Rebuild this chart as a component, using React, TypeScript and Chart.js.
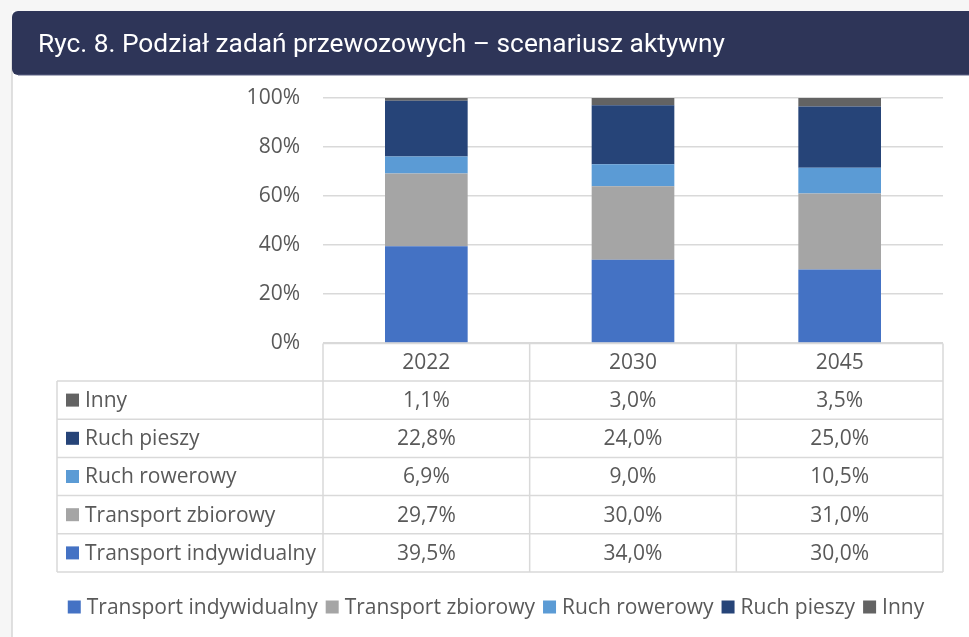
import React, { useEffect, useRef } from 'react';
import { Chart, registerables } from 'chart.js';

Chart.register(...registerables);

const TITLE = 'Ryc. 8. Podział zadań przewozowych – scenariusz aktywny';
const years = ['2022', '2030', '2045'];
const seriesNames = ['Transport indywidualny', 'Transport zbiorowy', 'Ruch rowerowy', 'Ruch pieszy', 'Inny'];
const transportIndywidualny = [39.5, 34.0, 30.0];
const transportZbiorowy = [29.7, 30.0, 31.0];
const ruchRowerowy = [6.9, 9.0, 10.5];
const ruchPieszy = [22.8, 24.0, 25.0];
const inny = [1.1, 3.0, 3.5];
const yTicks = [0, 20, 40, 60, 80, 100];
const seriesColors = ['#4472C4', '#A5A5A5', '#5B9BD5', '#264478', '#636363'];

const seriesData = [transportIndywidualny, transportZbiorowy, ruchRowerowy, ruchPieszy, inny];

const FONT = '"Open Sans", sans-serif';
const TEXT = '#595959';
const LINE = '#d9d9d9';

const fmt = (v: number) => v.toFixed(1).replace('.', ',') + '%';

const decorPlugin = {
  id: 'decor',
  beforeDraw(chart: any) {
    const ctx = chart.ctx as CanvasRenderingContext2D;
    const W = chart.width;
    const H = chart.height;
    ctx.save();
    ctx.fillStyle = '#f6f6f6';
    ctx.fillRect(0, 0, W, H);
    ctx.fillStyle = '#ffffff';
    ctx.fillRect(12, 11, W, H);
    ctx.strokeStyle = '#d6d6d6';
    ctx.lineWidth = 1.5;
    ctx.beginPath();
    ctx.moveTo(12, 40);
    ctx.lineTo(12, H);
    ctx.stroke();
    // banner
    ctx.fillStyle = '#2E3558';
    ctx.beginPath();
    (ctx as any).roundRect(12, 11, W, 64, [6, 0, 0, 6]);
    ctx.fill();
    ctx.fillStyle = '#5d6284';
    ctx.fillRect(18, 74.5, W, 1);
    ctx.fillStyle = '#ffffff';
    ctx.font = '26.3px Roboto, sans-serif';
    ctx.textAlign = 'left';
    ctx.textBaseline = 'alphabetic';
    ctx.fillText(TITLE, 38, 52);
    ctx.restore();
  },
  afterDraw(chart: any) {
    const ctx = chart.ctx as CanvasRenderingContext2D;
    const area = chart.chartArea;
    const xScale = chart.scales.x;
    const n = years.length;
    const cw = area.width / n;
    const top = area.bottom + 0.5;
    const headH = 37.5;
    const rowH = 38.2;
    const leftX = 57;
    const rows = seriesNames
      .map((name, i) => ({ name, color: seriesColors[i], data: seriesData[i] }))
      .reverse();
    const bottom = top + headH + rowH * rows.length;

    ctx.save();
    ctx.strokeStyle = LINE;
    ctx.lineWidth = 1.5;
    const line = (x1: number, y1: number, x2: number, y2: number) => {
      ctx.beginPath();
      ctx.moveTo(x1, y1);
      ctx.lineTo(x2, y2);
      ctx.stroke();
    };
    line(area.left, top, area.right, top);
    for (let r = 0; r <= rows.length; r++) {
      const y = top + headH + r * rowH;
      line(leftX, y, area.right, y);
    }
    line(leftX, top + headH, leftX, bottom);
    for (let c = 0; c <= n; c++) {
      const xx = area.left + c * cw;
      line(xx, top, xx, bottom);
    }

    ctx.font = '21px ' + FONT;
    ctx.fillStyle = TEXT;
    ctx.textBaseline = 'middle';
    ctx.textAlign = 'center';
    years.forEach((yr, i) => {
      ctx.fillText(yr, xScale.getPixelForValue(i), top + headH / 2 + 1);
    });
    rows.forEach((row, r) => {
      const cy = top + headH + r * rowH + rowH / 2;
      ctx.fillStyle = row.color;
      ctx.fillRect(66, cy - 6.5, 13, 13);
      ctx.fillStyle = TEXT;
      ctx.textAlign = 'left';
      ctx.fillText(row.name, 85, cy + 1);
      ctx.textAlign = 'center';
      row.data.forEach((v, i) => {
        ctx.fillText(fmt(v), xScale.getPixelForValue(i), cy + 1);
      });
    });

    // legend
    const box = 13;
    const gapBT = 6;
    const gapItem = 8;
    const widths = seriesNames.map((s) => ctx.measureText(s).width);
    const total =
      widths.reduce((a, b) => a + b, 0) + seriesNames.length * (box + gapBT) + (seriesNames.length - 1) * gapItem;
    let lx = 496 - total / 2;
    const ly = 607;
    ctx.textAlign = 'left';
    seriesNames.forEach((s, i) => {
      ctx.fillStyle = seriesColors[i];
      ctx.fillRect(lx, ly - 6.5, box, box);
      lx += box + gapBT;
      ctx.fillStyle = TEXT;
      ctx.fillText(s, lx, ly + 1);
      lx += widths[i] + gapItem;
    });
    ctx.restore();
  },
};

export default function App() {
  const ref = useRef<HTMLCanvasElement | null>(null);
  useEffect(() => {
    document.body.style.margin = '0';
    if (!ref.current) return;
    const chart = new Chart(ref.current, {
      type: 'bar',
      data: {
        labels: years,
        datasets: seriesNames.map((name, i) => ({
          label: name,
          data: seriesData[i],
          backgroundColor: seriesColors[i],
          borderWidth: 0,
          barPercentage: 0.4,
          categoryPercentage: 1.0,
        })),
      },
      options: {
        responsive: false,
        animation: false,
        devicePixelRatio: 1,
        layout: { padding: { left: 0, right: 26, top: 98, bottom: 294 } },
        plugins: { legend: { display: false }, tooltip: { enabled: false } },
        scales: {
          x: { stacked: true, display: false },
          y: {
            stacked: true,
            min: 0,
            max: 100,
            afterBuildTicks: (scale: any) => {
              scale.ticks = yTicks.map((v) => ({ value: v }));
            },
            afterFit: (scale: any) => {
              scale.width = 323;
            },
            ticks: {
              padding: 23,
              color: TEXT,
              font: { family: FONT, size: 21 },
              callback: (v: any) => v + '%',
            },
            grid: { color: LINE, lineWidth: 1.5, drawTicks: false },
            border: { display: false },
          },
        },
      },
      plugins: [decorPlugin],
    });
    return () => chart.destroy();
  }, []);
  return (
    <div style={{ position: 'absolute', left: 0, top: 0, width: 969, height: 637 }}>
      <canvas ref={ref} width={969} height={637} />
    </div>
  );
}
